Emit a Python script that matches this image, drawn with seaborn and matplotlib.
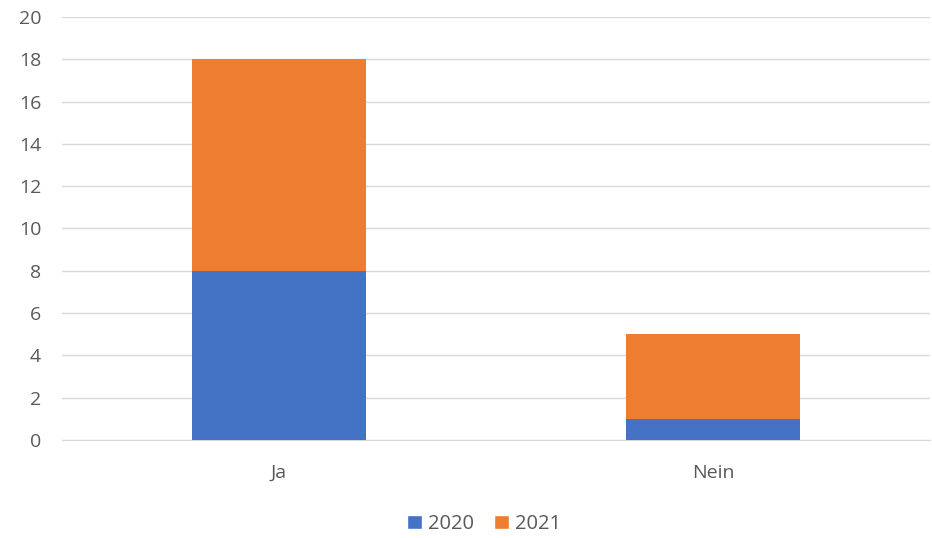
"""
Stacked bar chart: Ja / Nein by year
"""

# Dependencies
import numpy as np
import pandas as pd
import seaborn as sns
import matplotlib.pyplot as plt
from matplotlib.patches import Patch

# Data
categories = ['Ja', 'Nein']
values_2020 = [8, 1]
values_2021 = [10, 4]
years = ['2020', '2021']
y_ticks = [0, 2, 4, 6, 8, 10, 12, 14, 16, 18, 20]

df = pd.DataFrame({'answer': categories, '2020': values_2020, '2021': values_2021})
df['total'] = df['2020'] + df['2021']

blue = '#4472C4'
orange = '#ED7D31'

sns.set_style('white')
plt.rcParams['font.family'] = ['Open Sans', 'DejaVu Sans']

fig = plt.figure(figsize=(9.32, 5.38), dpi=100)
ax = fig.add_axes([62 / 932, 1 - 440 / 538, 868 / 932, 423 / 538])

# Stacked bars: total in orange, 2020 in blue on top
sns.barplot(data=df, x='answer', y='total', color=orange, width=0.4, saturation=1,
            linewidth=0, ax=ax, zorder=3)
sns.barplot(data=df, x='answer', y='2020', color=blue, width=0.4, saturation=1,
            linewidth=0, ax=ax, zorder=3)

ax.set_xlim(-0.5, 1.5)
ax.set_ylim(0, 20)
ax.set_yticks(y_ticks)
ax.yaxis.grid(True, color='#D9D9D9', linewidth=1, zorder=0)
ax.set_axisbelow(True)
for side in ['top', 'right', 'left']:
    ax.spines[side].set_visible(False)
ax.spines['bottom'].set_color('#D9D9D9')
ax.tick_params(axis='both', length=0, labelsize=14, labelcolor='#595959')
ax.tick_params(axis='x', pad=17)
ax.tick_params(axis='y', pad=15)
ax.set_xlabel('')
ax.set_ylabel('')

handles = [Patch(facecolor=blue, label=years[0]), Patch(facecolor=orange, label=years[1])]
fig.legend(handles=handles, loc='center', bbox_to_anchor=(484 / 932, 1 - 524 / 538), ncol=2,
           frameon=False, fontsize=14.5, handlelength=0.72, handleheight=0.72,
           handletextpad=0.3, columnspacing=1.0, labelcolor='#595959')

plt.savefig('out.png', dpi=100)
plt.close()
